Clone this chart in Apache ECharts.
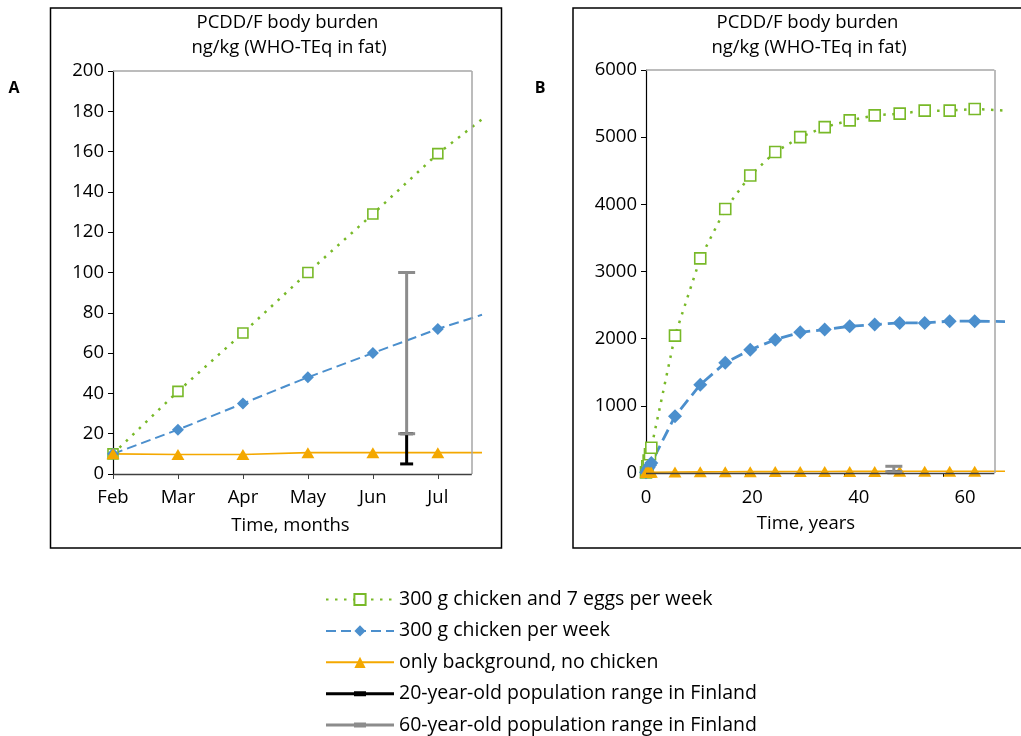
<!DOCTYPE html>
<html>
<head>
<meta charset="utf-8">
<script src="https://cdn.jsdelivr.net/npm/echarts@6/dist/echarts.min.js"></script>
<style>
  html, body { margin: 0; padding: 0; background: #fff; }
  #chart { width: 1021px; height: 736px; }
</style>
</head>
<body>
<div id="chart"></div>
<script>
// ---- Panel A: first months (x = months after February) ----
const monthLabels = ['Feb', 'Mar', 'Apr', 'May', 'Jun', 'Jul'];
const monthTicks = [0, 1, 2, 3, 4, 5];
const monthsA = [0, 1, 2, 3, 4, 5, 5.68];
const eggsChickenA = [10, 41, 70, 100, 129, 159, 176];
const chickenA = [10, 22, 35, 48, 60, 72, 79];
const backgroundA = [10, 9.7, 9.7, 10.6, 10.6, 10.6, 10.6];

// ---- Panel B: lifetime (x = years) ----
const yearLabels = [0, 20, 40, 60];
const yearTicks = [0, 18.6, 37.2, 55.8];
const yearsB = [0, 0.25, 0.5, 0.75, 1, 5.45, 10.2, 14.9, 19.6, 24.3, 29.0, 33.6, 38.3, 43.0, 47.7, 52.4, 57.1, 61.8, 67.5];
const eggsChickenB = [10, 100, 185, 280, 375, 2045, 3195, 3930, 4430, 4780, 5000, 5150, 5250, 5325, 5350, 5395, 5395, 5420, 5395];
const chickenB = [10, 47, 82, 115, 150, 845, 1315, 1640, 1835, 1985, 2095, 2135, 2185, 2210, 2235, 2235, 2260, 2260, 2255];
const backgroundB = [10, 10, 10, 11, 11, 15, 17, 19, 20, 21, 22, 23, 24, 24, 25, 25, 25, 26, 26];

// ---- Population ranges in Finland (low, high) ----
const range20 = [5, 20];
const range60 = [20, 100];
const rangeAtMonth = 4.52;
const rangeAtYear = 46.6;

// axis extents; the curves run a little past the framed plot area
const axisA = { xMax: 5.68, frameX: 5.523, yMax: 200, yStep: 20 };
const axisB = { xMax: 67.5, frameX: 65.5, yMax: 6000, yStep: 1000 };

const names = [
  '300 g chicken and 7 eggs per week',
  '300 g chicken per week',
  'only background, no chicken',
  '20-year-old population range in Finland',
  '60-year-old population range in Finland'
];

const FONT = '"Open Sans", "Noto Sans", sans-serif';
const GREEN = '#78b928', BLUE = '#4b8fcd', ORANGE = '#f4a800', GREY = '#8c8c8c', BLACK = '#000';
const FRAME = '#a6a6a6', AXIS_X = '#404040';

// the last point of each curve only continues the line, it carries no marker
function pts(xs, ys) {
  return xs.map((x, i) => i === xs.length - 1
    ? { value: [x, ys[i]], symbol: 'none' }
    : [x, ys[i]]);
}

function curves(gi, xs, eggs, chick, bg, wide) {
  const idx = { xAxisIndex: gi, yAxisIndex: gi };
  return [
    Object.assign({
      name: names[0], type: 'line', data: pts(xs, eggs), z: 3,
      symbol: 'rect', symbolSize: wide ? 11 : 10,
      itemStyle: { color: '#fff', borderColor: GREEN, borderWidth: 1.6 },
      lineStyle: { color: GREEN, width: 2.5, type: [2.5, 6.5] }
    }, idx),
    Object.assign({
      name: names[1], type: 'line', data: pts(xs, chick), z: 3,
      symbol: 'diamond', symbolSize: wide ? 14 : 12,
      itemStyle: { color: BLUE },
      lineStyle: { color: BLUE, width: wide ? 2.8 : 2, type: wide ? [12, 6] : [10, 5] }
    }, idx),
    Object.assign({
      name: names[2], type: 'line', data: pts(xs, bg), z: 3,
      symbol: 'triangle', symbolSize: [13, 11],
      itemStyle: { color: ORANGE },
      lineStyle: { color: ORANGE, width: 1.6 }
    }, idx)
  ];
}

function rangeBars(gi, x) {
  const idx = { xAxisIndex: gi, yAxisIndex: gi };
  return [
    Object.assign({
      name: names[3], type: 'line', z: 4,
      data: [[x, range20[0]], [x, range20[1]]],
      symbol: 'rect', symbolSize: [13, 3],
      itemStyle: { color: BLACK }, lineStyle: { color: BLACK, width: 3 }
    }, idx),
    Object.assign({
      name: names[4], type: 'line', z: 5,
      data: [[x, range60[0]], [x, range60[1]]],
      symbol: 'rect', symbolSize: [17, 3],
      itemStyle: { color: GREY }, lineStyle: { color: GREY, width: 3 }
    }, idx)
  ];
}

// plot frame: top and right edges in light grey, the x axis line in dark grey
function frame(gi, ax) {
  return {
    type: 'line', xAxisIndex: gi, yAxisIndex: gi, z: 1, silent: true,
    data: [[0, 0]], showSymbol: false, lineStyle: { width: 0 },
    markLine: {
      silent: true, symbol: 'none', label: { show: false }, animation: false,
      emphasis: { disabled: true },
      data: [
        [{ coord: [0, ax.yMax], lineStyle: { color: FRAME, width: 1.5, type: 'solid' } }, { coord: [ax.frameX, ax.yMax] }],
        [{ coord: [ax.frameX, 0], lineStyle: { color: FRAME, width: 1.5, type: 'solid' } }, { coord: [ax.frameX, ax.yMax] }],
        [{ coord: [0, 0], lineStyle: { color: AXIS_X, width: 1.3, type: 'solid' } }, { coord: [ax.frameX, 0] }]
      ]
    }
  };
}

const axisText = { color: '#000', fontSize: 18.5, fontFamily: FONT };

function yAxis(gi, ax) {
  return {
    type: 'value', gridIndex: gi, min: 0, max: ax.yMax, interval: ax.yStep,
    axisLine: { show: true, lineStyle: { color: '#000', width: 1.2 } },
    axisTick: { show: true, length: 5, lineStyle: { color: '#000' } },
    axisLabel: Object.assign({ margin: 9, formatter: v => String(v) }, axisText),
    splitLine: { show: false }
  };
}

const chart = echarts.init(document.getElementById('chart'), null, { renderer: 'canvas' });

chart.setOption({
  animation: false,
  backgroundColor: '#fff',
  grid: [
    { left: 113, top: 71, width: 369, height: 403, show: false },
    { left: 646, top: 70, width: 359, height: 403, show: false }
  ],
  xAxis: [
    {
      type: 'value', gridIndex: 0, min: 0, max: axisA.xMax, interval: 1,
      axisLine: { show: false },
      axisTick: { show: true, length: 5, customValues: monthTicks, lineStyle: { color: AXIS_X } },
      axisLabel: Object.assign({
        margin: 14, customValues: monthTicks,
        formatter: v => (Number.isInteger(v) && monthLabels[v]) || ''
      }, axisText),
      splitLine: { show: false }
    },
    {
      type: 'value', gridIndex: 1, min: 0, max: axisB.xMax, interval: 20,
      axisLine: { show: false },
      axisTick: { show: true, length: 4, customValues: yearTicks, lineStyle: { color: '#000' } },
      axisLabel: Object.assign({
        margin: 15, customValues: yearLabels,
        formatter: v => (yearLabels.indexOf(v) >= 0 ? String(v) : '')
      }, axisText),
      splitLine: { show: false }
    }
  ],
  yAxis: [yAxis(0, axisA), yAxis(1, axisB)],
  legend: {
    orient: 'vertical', left: 325, top: 589.5, height: 170, padding: 0,
    itemWidth: 68, itemHeight: 14, itemGap: 11.4,
    textStyle: { color: '#000', fontSize: 19.5, fontFamily: FONT },
    data: [
      { name: names[0] },
      { name: names[1] },
      { name: names[2] },
      { name: names[3], icon: 'path://M0,1H68V4H0Z M28,0H40V5H28Z' },
      { name: names[4], icon: 'path://M0,1H68V4H0Z M28,0H40V5H28Z' }
    ]
  },
  graphic: [
    { type: 'rect', shape: { x: 50.5, y: 8, width: 451, height: 540 }, style: { fill: 'none', stroke: '#000', lineWidth: 1.5 }, silent: true },
    { type: 'rect', shape: { x: 573, y: 8, width: 460, height: 540 }, style: { fill: 'none', stroke: '#000', lineWidth: 1.5 }, silent: true },
    { type: 'text', x: 287.5, y: 23, style: { text: 'PCDD/F body burden', align: 'center', verticalAlign: 'middle', fontSize: 18.5, fontFamily: FONT, fill: '#000' } },
    { type: 'text', x: 289, y: 48, style: { text: 'ng/kg (WHO-TEq in fat)', align: 'center', verticalAlign: 'middle', fontSize: 18.5, fontFamily: FONT, fill: '#000' } },
    { type: 'text', x: 807.5, y: 23, style: { text: 'PCDD/F body burden', align: 'center', verticalAlign: 'middle', fontSize: 18.5, fontFamily: FONT, fill: '#000' } },
    { type: 'text', x: 809, y: 48, style: { text: 'ng/kg (WHO-TEq in fat)', align: 'center', verticalAlign: 'middle', fontSize: 18.5, fontFamily: FONT, fill: '#000' } },
    { type: 'text', x: 14, y: 88, style: { text: 'A', align: 'center', verticalAlign: 'middle', fontSize: 16, fontWeight: 'bold', fontFamily: FONT, fill: '#000' } },
    { type: 'text', x: 540, y: 88, style: { text: 'B', align: 'center', verticalAlign: 'middle', fontSize: 16, fontWeight: 'bold', fontFamily: FONT, fill: '#000' } },
    { type: 'text', x: 290.5, y: 526, style: { text: 'Time, months', align: 'center', verticalAlign: 'middle', fontSize: 18.5, fontFamily: FONT, fill: '#000' } },
    { type: 'text', x: 806, y: 524, style: { text: 'Time, years', align: 'center', verticalAlign: 'middle', fontSize: 18.5, fontFamily: FONT, fill: '#000' } }
  ],
  series: [].concat(
    [frame(0, axisA), frame(1, axisB)],
    curves(0, monthsA, eggsChickenA, chickenA, backgroundA, false),
    rangeBars(0, rangeAtMonth),
    curves(1, yearsB, eggsChickenB, chickenB, backgroundB, true),
    rangeBars(1, rangeAtYear)
  )
});
</script>
</body>
</html>
